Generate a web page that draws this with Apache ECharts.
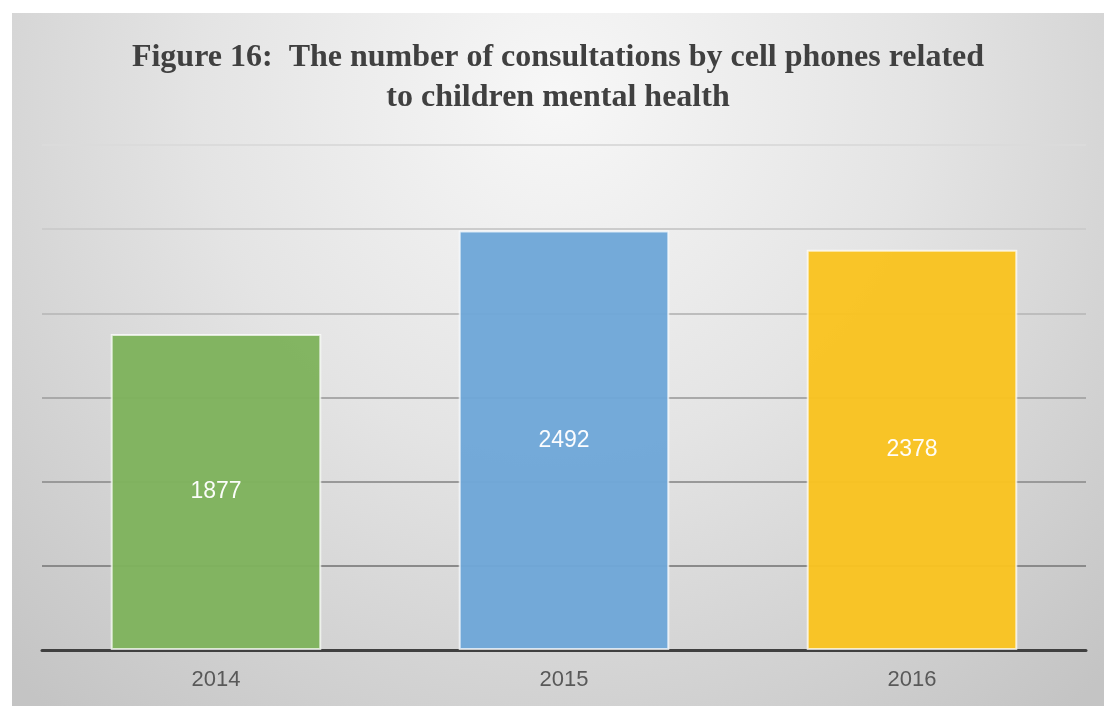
<!DOCTYPE html>
<html>
<head>
    <meta charset="utf-8">
    <title>Figure 16</title>
    <script src="https://cdn.jsdelivr.net/npm/echarts@6/dist/echarts.min.js"></script>
    <style>
        html, body { margin: 0; padding: 0; background: #ffffff; }
        /* chart panel sits a little inside the page, like the pasted figure */
        #main {
            position: absolute;
            left: 12px;
            top: 13px;
            width: 1092px;
            height: 693px;
        }
    </style>
</head>
<body>
<div id="main"></div>
<script type="text/javascript">
    // data
    var years = ['2014', '2015', '2016'];
    var consultations = [1877, 2492, 2378];
    var barColors = ['#7fb35d', '#6fa7d8', '#f9c321'];

    // grid lines get lighter towards the top
    var gridColors = ['#404040', '#8a8a8a', '#999999', '#a9a9a9', '#bdbdbd', '#cccccc', '#dbdbdb'];

    var myChart = echarts.init(document.getElementById('main'));

    var option = {
        backgroundColor: {
            type: 'radial',
            x: 0.5,
            y: 0.12,
            r: 1.15,
            colorStops: [
                { offset: 0, color: '#f7f7f7' },
                { offset: 0.45, color: '#e4e4e4' },
                { offset: 1, color: '#c4c4c4' }
            ]
        },
        title: {
            text: 'Figure 16:  The number of consultations by cell phones related\nto children mental health',
            left: 'center',
            top: 20,
            textStyle: {
                fontFamily: '"Liberation Serif", "Times New Roman", serif',
                fontWeight: 'bold',
                fontSize: 32,
                lineHeight: 40,
                color: '#404040'
            }
        },
        grid: {
            left: 30,
            right: 18,
            top: 132,
            bottom: 56,
            containLabel: false
        },
        xAxis: {
            type: 'category',
            data: years,
            axisLine: { show: true, lineStyle: { color: '#404040', width: 3 } },
            axisTick: { show: false },
            axisLabel: {
                margin: 19,
                fontSize: 22,
                color: '#595959',
                fontFamily: '"Liberation Sans", Arial, sans-serif'
            }
        },
        yAxis: {
            type: 'value',
            min: 0,
            max: 3000,
            interval: 500,
            axisLine: { show: false },
            axisTick: { show: false },
            axisLabel: { show: false },
            splitLine: {
                show: true,
                lineStyle: { color: gridColors, width: 2 }
            }
        },
        series: [
            {
                type: 'bar',
                data: consultations,
                barWidth: '60.5%',
                itemStyle: {
                    color: function (params) {
                        return barColors[params.dataIndex];
                    },
                    opacity: 0.97,
                    borderColor: 'rgba(255,255,255,0.75)',
                    borderWidth: 2
                },
                label: {
                    show: true,
                    position: 'inside',
                    color: '#ffffff',
                    fontSize: 23,
                    fontFamily: '"Liberation Sans", Arial, sans-serif'
                }
            }
        ],
        animation: false
    };

    myChart.setOption(option);
</script>
</body>
</html>
